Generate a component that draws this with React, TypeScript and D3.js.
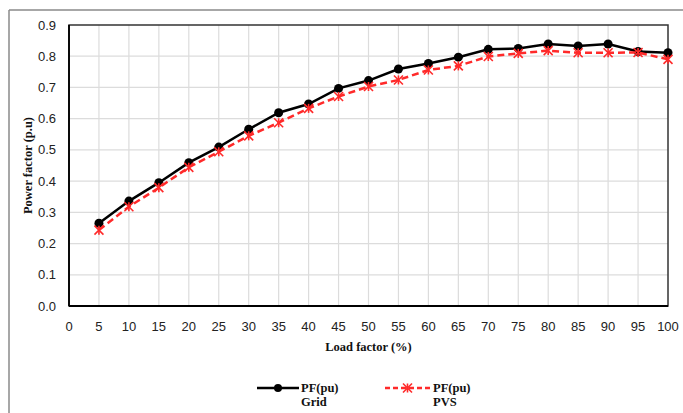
import React from "react";
import * as d3 from "d3";

const loadFactor = [5, 10, 15, 20, 25, 30, 35, 40, 45, 50, 55, 60, 65, 70, 75, 80, 85, 90, 95, 100];
const pfGrid = [0.265, 0.336, 0.395, 0.459, 0.509, 0.566, 0.619, 0.647, 0.697, 0.722, 0.759, 0.777, 0.797, 0.822, 0.825, 0.839, 0.833, 0.839, 0.815, 0.811];
const pfPVS = [0.243, 0.318, 0.379, 0.444, 0.494, 0.545, 0.587, 0.633, 0.671, 0.703, 0.724, 0.756, 0.769, 0.799, 0.809, 0.818, 0.811, 0.811, 0.812, 0.79];
const xTicks = d3.range(0, 101, 5);
const yTicks = d3.range(0, 0.91, 0.1);

const W = 683, H = 413;
const L = 69, R = 668, T = 25, B = 306;

function Star({ x, y }: { x: number; y: number }) {
  const s = 4.5;
  return (
    <g stroke="#ff2a2a" strokeWidth={1.6}>
      <line x1={x - s} y1={y - s} x2={x + s} y2={y + s} />
      <line x1={x - s} y1={y + s} x2={x + s} y2={y - s} />
      <line x1={x} y1={y - s} x2={x} y2={y + s} />
    </g>
  );
}

export default function App() {
  const x = d3.scaleLinear().domain([0, 100]).range([L, R]);
  const y = d3.scaleLinear().domain([0, 0.9]).range([B, T]);
  const line = d3.line<number>().x((_, i) => x(loadFactor[i])).y((d) => y(d));
  const tickFont = "'Liberation Sans', Arial, sans-serif";
  const titleFont = "'Liberation Serif', 'Times New Roman', serif";
  return (
    <svg width={W} height={H} style={{ position: "absolute", left: 0, top: 0, background: "#fff" }}>
      <rect x={0} y={0} width={W} height={H} fill="#fff" />
      {/* outer frame */}
      <line x1={9} y1={10} x2={W} y2={10} stroke="#8a8a8a" strokeWidth={1.5} />
      <line x1={9} y1={10} x2={9} y2={H} stroke="#8a8a8a" strokeWidth={1.5} />
      {/* grid */}
      {xTicks.slice(1, -1).map((t) => (
        <line key={"gx" + t} x1={x(t)} x2={x(t)} y1={T} y2={B} stroke="#dcdcdc" strokeWidth={1.2} />
      ))}
      {yTicks.slice(1, -1).map((t) => (
        <line key={"gy" + t} x1={L} x2={R} y1={y(t)} y2={y(t)} stroke="#dcdcdc" strokeWidth={1.2} />
      ))}
      {/* plot border */}
      <rect x={L} y={T} width={R - L} height={B - T} fill="none" stroke="#333" strokeWidth={1.5} />
      <line x1={L} x2={R} y1={B} y2={B} stroke="#000" strokeWidth={1.8} />
      <line x1={L} x2={L} y1={T} y2={B} stroke="#000" strokeWidth={1.8} />
      {/* y tick labels */}
      {yTicks.map((t) => (
        <text key={"yl" + t} x={56} y={y(t)} dy="0.35em" textAnchor="end" fontFamily={tickFont} fontSize={13} fill="#222">
          {t.toFixed(1)}
        </text>
      ))}
      {/* x tick labels */}
      {xTicks.map((t) => (
        <text key={"xl" + t} x={x(t)} y={326} dy="0.35em" textAnchor="middle" fontFamily={tickFont} fontSize={13} fill="#222">
          {t}
        </text>
      ))}
      {/* series */}
      <path d={line(pfGrid) || ""} fill="none" stroke="#000" strokeWidth={2.5} />
      {pfGrid.map((v, i) => (
        <circle key={"c" + i} cx={x(loadFactor[i])} cy={y(v)} r={4.5} fill="#000" />
      ))}
      <path d={line(pfPVS) || ""} fill="none" stroke="#ff2a2a" strokeWidth={2.5} strokeDasharray="7,4" />
      {pfPVS.map((v, i) => (
        <Star key={"s" + i} x={x(loadFactor[i])} y={y(v)} />
      ))}
      {/* axis titles */}
      <text x={(L + R) / 2} y={347} dy="0.35em" textAnchor="middle" fontFamily={titleFont} fontWeight="bold" fontSize={12.5} fill="#111">
        Load factor (%)
      </text>
      <text transform={`translate(28,${(T + B) / 2}) rotate(-90)`} dy="0.35em" textAnchor="middle" fontFamily={titleFont} fontWeight="bold" fontSize={12.5} fill="#111">
        Power factor (p.u)
      </text>
      {/* legend */}
      <line x1={257} x2={299} y1={388} y2={388} stroke="#000" strokeWidth={2.5} />
      <circle cx={278} cy={388} r={4} fill="#000" />
      <text x={301} y={388} dy="0.35em" fontFamily={titleFont} fontWeight="bold" fontSize={12.5} fill="#111">PF(pu)</text>
      <text x={301} y={402} dy="0.35em" fontFamily={titleFont} fontWeight="bold" fontSize={12.5} fill="#111">Grid</text>
      <line x1={385} x2={430} y1={388} y2={388} stroke="#ff2a2a" strokeWidth={2.5} strokeDasharray="5,3" />
      <Star x={407.5} y={388} />
      <text x={433} y={388} dy="0.35em" fontFamily={titleFont} fontWeight="bold" fontSize={12.5} fill="#111">PF(pu)</text>
      <text x={433} y={402} dy="0.35em" fontFamily={titleFont} fontWeight="bold" fontSize={12.5} fill="#111">PVS</text>
    </svg>
  );
}
